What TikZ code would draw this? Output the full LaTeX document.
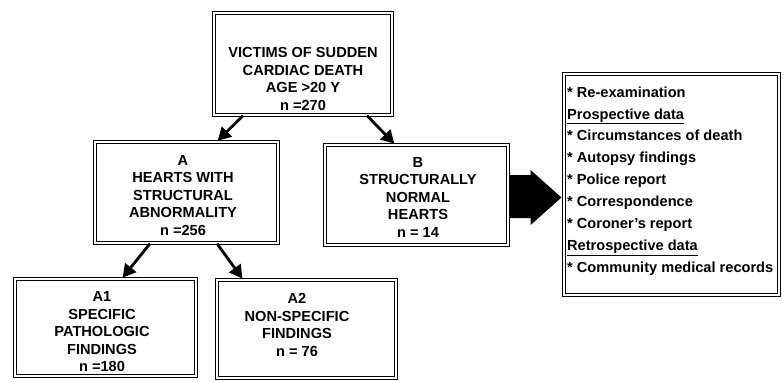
\documentclass[tikz,border=0pt]{standalone}
\usepackage{fontspec}
\setmainfont{Liberation Sans}
\usetikzlibrary{arrows.meta,calc}
\begin{document}
\begin{tikzpicture}[x=1pt,y=-1pt,
  frame/.style={draw=black, line width=1.2pt, double=white, double distance=1.4pt, inner sep=0pt},
  txt/.style={align=center, inner sep=0pt, font=\fontsize{14.6}{17.5}\selectfont\bfseries},
  list/.style={align=left, inner sep=0pt, anchor=west, font=\fontsize{14.6}{21.9}\selectfont\bfseries},
  arr/.style={line width=2.8pt, -{Triangle[length=13pt,width=14pt]}, shorten >=1pt}]
\useasboundingbox (0,0) rectangle (784,381);
% frames
\node[frame, minimum width=178pt, minimum height=102pt] (top) at (303,64) {};
\node[frame, minimum width=183pt, minimum height=101pt] (A) at (186.5,192.5) {};
\node[frame, minimum width=183pt, minimum height=100pt] (B) at (416.5,195) {};
\node[frame, minimum width=181pt, minimum height=97pt] (A1) at (105.5,327.5) {};
\node[frame, minimum width=179pt, minimum height=98pt] (A2) at (306.5,329) {};
\node[frame, minimum width=215pt, minimum height=221pt] (R) at (671.5,184.5) {};
% texts
\node[txt] (ttop) at (303,79) {VICTIMS OF SUDDEN\\CARDIAC DEATH\\AGE >20 Y\\n =270};
\node[txt] (tA) at (183,195.5) {A\\HEARTS WITH\\STRUCTURAL\\ABNORMALITY\\n =256};
\node[txt] (tB) at (418,197) {B\\STRUCTURALLY\\NORMAL\\HEARTS\\n = 14};
\node[txt] (tA1) at (102,332) {A1\\SPECIFIC\\PATHOLOGIC\\FINDINGS\\n =180};
\node[txt] (tA2) at (297,325) {A2\\NON-SPECIFIC\\FINDINGS\\n = 76};
\node[list] (tR) at (567,181) {* Re-examination\\\underline{Prospective data}\\* Circumstances of death\\* Autopsy findings\\* Police report\\* Correspondence\\* Coroner's report\\\underline{Retrospective data}\\* Community medical records};
% arrows
\draw[arr] ([xshift=-60pt]top.south) -- ([xshift=30.5pt]A.north);
\draw[arr] ([xshift=64pt]top.south) -- ([xshift=-21.5pt]B.north);
\draw[arr] ([xshift=-36.5pt]A.south) -- ([xshift=16.5pt]A1.north);
\draw[arr] ([xshift=30.5pt]A.south) -- ([xshift=-63.5pt]A2.north);
% big arrow
\fill ($(B.east)+(1,-20)$) -- ($(B.east)+(22,-20)$) -- ($(B.east)+(22,-25)$)
  -- ($(R.west)+(-2,13)$) -- ($(B.east)+(22,30)$) -- ($(B.east)+(22,23)$)
  -- ($(B.east)+(1,23)$) -- cycle;
\end{tikzpicture}
\end{document}
